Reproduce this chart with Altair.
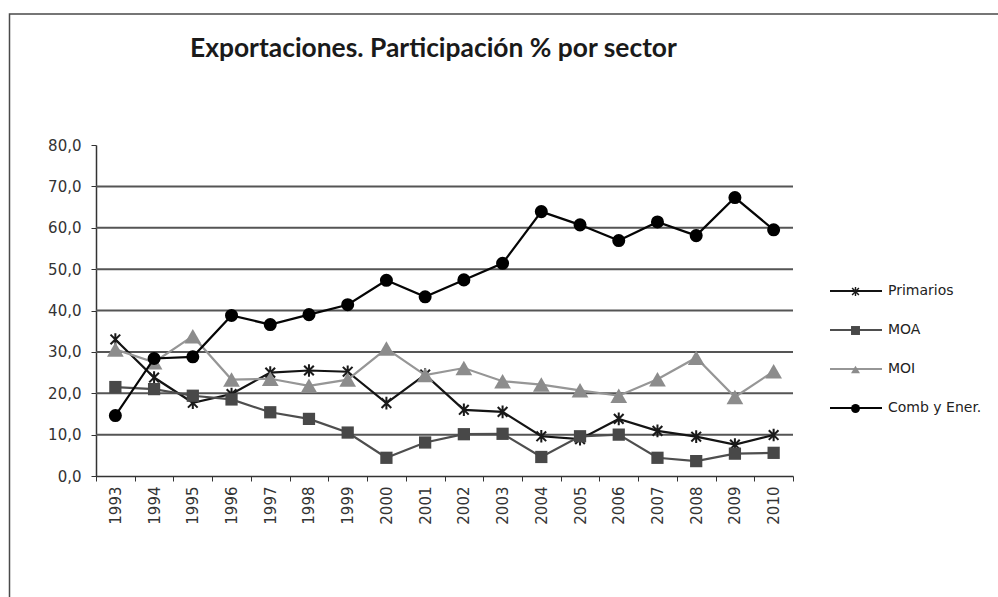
import altair as alt
import pandas as pd

# Export share by sector (%), 1993-2010
years = [str(y) for y in range(1993, 2011)]
primarios = [33.0, 23.8, 17.7, 19.8, 25.0, 25.5, 25.2, 17.6, 24.5, 16.0,
             15.5, 9.6, 8.9, 13.8, 10.9, 9.5, 7.6, 9.9]
moa = [21.5, 21.0, 19.4, 18.5, 15.4, 13.8, 10.5, 4.4, 8.1, 10.1,
       10.2, 4.6, 9.6, 10.0, 4.4, 3.6, 5.4, 5.6]
moi = [30.6, 27.5, 33.8, 23.3, 23.5, 21.8, 23.3, 30.8, 24.4, 26.1,
       22.9, 22.1, 20.7, 19.4, 23.4, 28.6, 19.1, 25.3]
comb = [14.6, 28.4, 28.8, 38.8, 36.6, 39.0, 41.4, 47.3, 43.3, 47.4,
        51.4, 63.9, 60.7, 56.9, 61.4, 58.1, 67.3, 59.5]

series = ["Primarios", "MOA", "MOI", "Comb y Ener."]
values = [primarios, moa, moi, comb]
grid_vals = [10, 20, 30, 40, 50, 60, 70]
y_ticks = [0, 10, 20, 30, 40, 50, 60, 70, 80]
title_text = "Exportaciones. Participación % por sector"

# Styling per series
line_colors = ["#141414", "#4e4e4e", "#969696", "#050505"]
marker_colors = ["#1a1a1a", "#484848", "#8c8c8c", "#000000"]
asterisk = ("M-0.16,-1H0.16V1H-0.16Z"
            "M-0.88,-0.65L-0.65,-0.88L0.88,0.65L0.65,0.88Z"
            "M0.88,-0.65L-0.65,0.88L-0.88,0.65L0.65,-0.88Z")
shapes = [asterisk, "square", "triangle-up", "circle"]
marker_sizes = [160, 150, 280, 170]

# Line-legend entries carry a trailing space so that they form their own legend
line_names = [s + " " for s in series]

rows = []
for name, lname, vals in zip(series, line_names, values):
    for yr, v in zip(years, vals):
        rows.append({"anio": yr, "valor": v, "serie": name, "linea": lname})
df = pd.DataFrame(rows)

W, H = 697, 331
FONT = "DejaVu Sans"
y_scale = alt.Scale(domain=[0, 80], nice=False, zero=True)
y_axis = alt.Axis(values=y_ticks, grid=False,
                  labelExpr="replace(format(datum.value, '.1f'), '.', ',')",
                  labelPadding=10, labelFontSize=15)

x_enc = alt.X(
    "anio:N",
    title=None,
    scale=alt.Scale(domain=years, paddingInner=0, paddingOuter=0),
    axis=alt.Axis(tickBand="extent", labelAngle=270, labelAlign="right",
                  labelBaseline="middle", labelPadding=5, labelFontSize=15,
                  grid=False),
)
y_enc = alt.Y("valor:Q", title=None, scale=y_scale, axis=y_axis)

# Marker legend (no text) laid over the line legend
point_legend = alt.Legend(orient="none", legendX=755, legendY=142, title=None,
                          symbolSize=80, symbolStrokeWidth=0, labelExpr="''",
                          labelFontSize=1, rowPadding=30)
line_legend = alt.Legend(orient="none", legendX=753, legendY=139, title=None,
                         symbolType="M-20,0H20", symbolSize=6.76,
                         symbolStrokeWidth=2, labelOffset=25, rowPadding=25)

color_enc = alt.Color("serie:N", scale=alt.Scale(domain=series, range=marker_colors),
                      legend=point_legend)
shape_enc = alt.Shape("serie:N", scale=alt.Scale(domain=series, range=shapes),
                      legend=point_legend)
stroke_enc = alt.Stroke("linea:N", scale=alt.Scale(domain=line_names, range=line_colors),
                        legend=line_legend)

# Outer chart frame
frame = alt.Chart(pd.DataFrame({"k": [0]})).mark_rect(
    fillOpacity=0, stroke="#4a4a4a", strokeWidth=1.5
).encode(x=alt.value(-86.5), x2=alt.value(1200), y=alt.value(-131), y2=alt.value(700))

# Chart title
title = alt.Chart(pd.DataFrame({"t": [title_text]})).mark_text(
    align="left", baseline="alphabetic", font="Lato", fontSize=26.4,
    fontWeight="bold", color="#1a1a1a"
).encode(x=alt.value(94), y=alt.value(-88), text="t:N")

grid = alt.Chart(pd.DataFrame({"g": grid_vals})).mark_rule(
    color="#555555", strokeWidth=2
).encode(y=alt.Y("g:Q", title=None, scale=y_scale, axis=y_axis))

layers = [frame, title, grid]
base = alt.Chart(df)
for name, size in zip(series, marker_sizes):
    sub = base.transform_filter(alt.datum.serie == name)
    layers.append(sub.mark_line(strokeWidth=2.2).encode(x=x_enc, y=y_enc, stroke=stroke_enc))
    layers.append(sub.mark_point(filled=True, size=size, opacity=1, strokeWidth=0)
                  .encode(x=x_enc, y=y_enc, color=color_enc, shape=shape_enc))

chart = alt.layer(*layers).properties(
    width=W,
    height=H,
    autosize=alt.AutoSizeParams(type="none"),
    padding={"left": 96, "top": 145, "right": 205, "bottom": 121},
    background="white",
).configure_view(
    stroke=None
).configure_axis(
    labelFont=FONT, labelColor="#333333", tickSize=5, tickColor="#333333",
    domainColor="#333333", domainWidth=1.5, tickWidth=1
).configure_legend(
    labelFont=FONT, labelFontSize=14, labelColor="#222222", padding=0
)

chart.save("out.html", embed_options={"renderer": "svg", "actions": False})
